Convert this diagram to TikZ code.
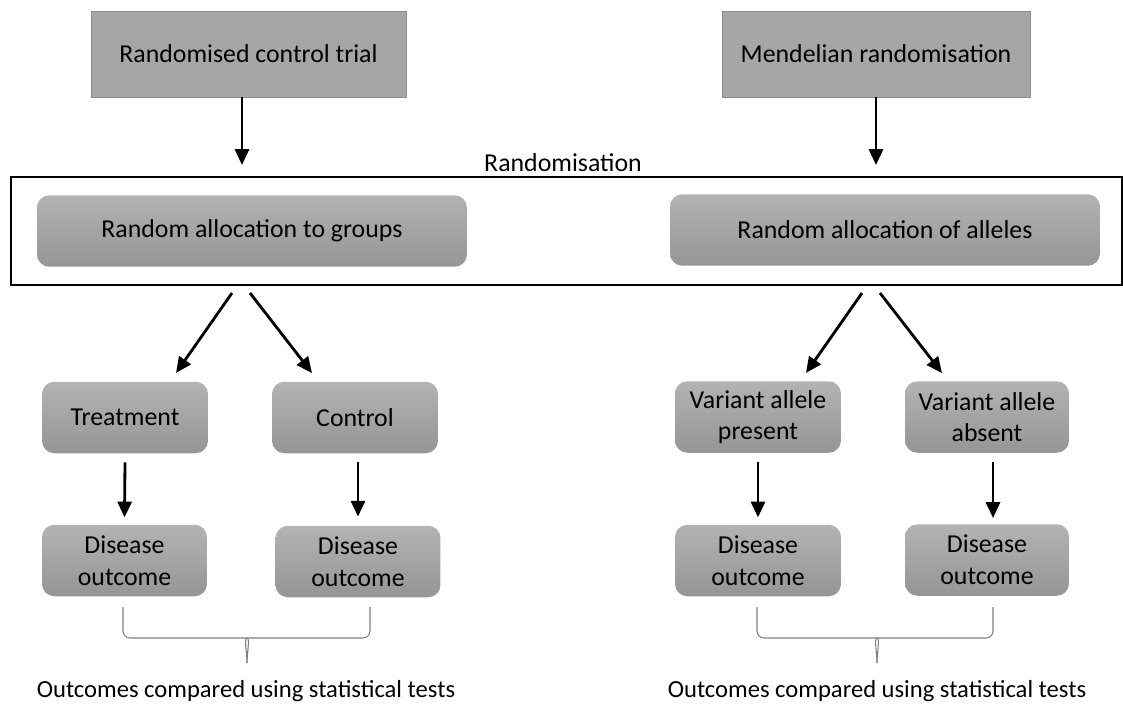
\documentclass[tikz,border=0pt]{standalone}
\usepackage{fontspec}
\setmainfont{Carlito}
\usetikzlibrary{arrows.meta, positioning}

\definecolor{boxgray}{HTML}{A6A6A6}
\definecolor{boxedge}{HTML}{8C8C8C}
\definecolor{toptone}{HTML}{B3B3B3}
\definecolor{bottone}{HTML}{959595}
\definecolor{bracegray}{HTML}{7F7F7F}

\begin{document}
\begin{tikzpicture}[x=0.02cm, y=-0.02cm,
    every node/.style={font=\fontsize{14.7pt}{18pt}\selectfont, text=black},
    studybox/.style={draw=boxedge, fill=boxgray, minimum width=6.3cm, minimum height=1.72cm},
    roundbox/.style={rounded corners=7pt, top color=toptone, bottom color=bottone, draw=none,
        minimum height=1.43cm, align=center},
    arr/.style={line width=1.6pt, -{Triangle[length=9pt, width=8pt]}},
    bracket/.style={draw=bracegray, line width=0.6pt, rounded corners=4pt}]
    \useasboundingbox (0,0) rectangle (1123,707);

    % top row
    \node[studybox] (rct) at (248.5,54) {Randomised control trial};
    \node[studybox, minimum width=6.16cm] (mr) at (876,54) {Mendelian randomisation};

    % randomisation frame
    \node (rlabel) at (563,163) {Randomisation};
    \draw[line width=1.4pt] (11,177) rectangle (1122,285);
    \node[roundbox, minimum width=8.6cm] (alloc1) at (252,231) {Random allocation to groups};
    \node[roundbox, minimum width=8.6cm] (alloc2) at (885,230) {Random allocation of alleles};

    \coordinate (rctend) at (242,165);
    \coordinate (mrend) at (876,165);
    \draw[arr] (rct.south -| rctend) -- (rctend);
    \draw[arr] (mr.south) -- (mrend);

    % groups
    \node[roundbox, minimum width=3.32cm] (treat) at (125,417.5) {Treatment};
    \node[roundbox, minimum width=3.32cm] (ctrl) at (355,417.5) {Control};
    \node[roundbox, minimum width=3.32cm] (varp) at (758,417) {Variant allele\\present};
    \node[roundbox, minimum width=3.28cm] (vara) at (987,417) {Variant allele\\absent};

    \coordinate (a1s) at (232,293); \coordinate (a1e) at (176,373);
    \coordinate (a2s) at (250,293); \coordinate (a2e) at (312,373);
    \coordinate (a3s) at (862,293); \coordinate (a3e) at (806,373);
    \coordinate (a4s) at (880,293); \coordinate (a4e) at (942,373);
    \draw[arr] (a1s) -- (a1e);
    \draw[arr] (a2s) -- (a2e);
    \draw[arr] (a3s) -- (a3e);
    \draw[arr] (a4s) -- (a4e);

    % outcomes
    \node[roundbox, minimum width=3.3cm] (dis1) at (124.5,560.5) {Disease\\outcome};
    \node[roundbox, minimum width=3.3cm] (dis2) at (358,561.5) {Disease\\outcome};
    \node[roundbox, minimum width=3.32cm] (dis3) at (758,560.5) {Disease\\outcome};
    \node[roundbox, minimum width=3.28cm] (dis4) at (987,560) {Disease\\outcome};

    \coordinate (c4s) at (993,462); \coordinate (c4e) at (993,518);
    \draw[arr] ([yshift=-5pt]treat.south) -- ([yshift=4pt]dis1.north);
    \draw[arr] ([yshift=-5pt]ctrl.south -| dis2.north) -- ([yshift=5pt]dis2.north);
    \draw[arr] ([yshift=-5pt]varp.south) -- ([yshift=4pt]dis3.north);
    \draw[arr] (c4s) -- (c4e);

    % comparison brackets
    \draw[bracket] (123,607) -- (123,638) -- (240,638) to[out=0, in=90] (247,663);
    \draw[bracket] (370,607) -- (370,638) -- (254,638) to[out=180, in=90] (247,663);
    \draw[bracket] (757,607) -- (757,638) -- (870,638) to[out=0, in=90] (877,663);
    \draw[bracket] (993,607) -- (993,638) -- (884,638) to[out=180, in=90] (877,663);
    \node[font=\fontsize{14pt}{17pt}\selectfont] (cmp1) at (246,691) {Outcomes compared using statistical tests};
    \node[font=\fontsize{14pt}{17pt}\selectfont] (cmp2) at (877,691) {Outcomes compared using statistical tests};
\end{tikzpicture}
\end{document}
